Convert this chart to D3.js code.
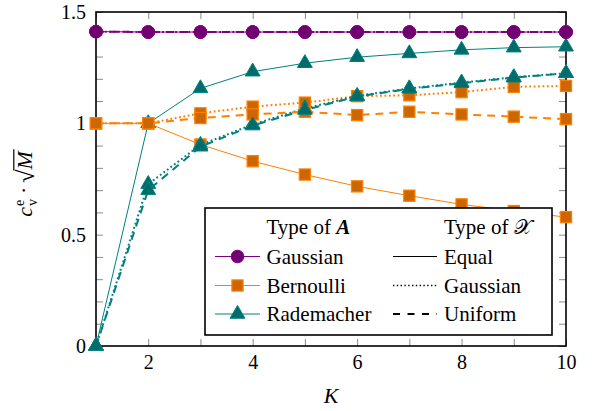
<!DOCTYPE html>
<html>
<head>
<meta charset="utf-8">
<script src="https://cdn.jsdelivr.net/npm/d3@7"></script>
<style>
  body { margin: 0; background: #fff; }
  svg text { font-family: "Liberation Serif", "Times New Roman", serif; }
</style>
</head>
<body>
<div id="plot"></div>
<script>
// values
const kValues = [1, 2, 3, 4, 5, 6, 7, 8, 9, 10];

const gaussEqual   = [1.412, 1.41, 1.41, 1.41, 1.41, 1.41, 1.41, 1.41, 1.41, 1.41];
const gaussGauss   = [1.412, 1.41, 1.41, 1.41, 1.41, 1.41, 1.41, 1.41, 1.41, 1.41];
const gaussUniform = [1.412, 1.41, 1.41, 1.41, 1.41, 1.41, 1.41, 1.41, 1.41, 1.41];

const bernEqual   = [1, 1, 0.905, 0.83, 0.77, 0.717, 0.675, 0.636, 0.606, 0.579];
const bernGauss   = [1, 1, 1.045, 1.075, 1.093, 1.122, 1.126, 1.14, 1.164, 1.168];
const bernUniform = [1, 1, 1.024, 1.04, 1.052, 1.037, 1.052, 1.04, 1.03, 1.019];

const radEqual   = [0, 1.0, 1.157, 1.232, 1.27, 1.297, 1.314, 1.33, 1.34, 1.344];
const radGauss   = [0, 0.727, 0.903, 0.995, 1.067, 1.123, 1.157, 1.183, 1.207, 1.225];
const radUniform = [0, 0.70, 0.895, 0.99, 1.06, 1.12, 1.155, 1.18, 1.205, 1.225];

const xTickValues = d3.range(1, 11);
const xTickLabels = [2, 4, 6, 8, 10];
const yTickValues = d3.range(0, 16).map(i => i / 10);
const yTickLabels = [0, 0.5, 1, 1.5];

const matrixTypes = ["Gaussian", "Bernoulli", "Rademacher"];
const signalTypes = ["Equal", "Gaussian", "Uniform"];

const colours = {
  Gaussian:   { line: "#800080", fill: "#700070" },
  Bernoulli:  { line: "#ff8000", fill: "#cc6600" },
  Rademacher: { line: "#008080", fill: "#006b6b" }
};
const dashes = { Equal: null, Gaussian: "1.8,2.6", Uniform: "8,6" };
const widths = { Equal: 1, Gaussian: 2, Uniform: 2 };

const seriesData = {
  Equal:    { Gaussian: gaussEqual,   Bernoulli: bernEqual,   Rademacher: radEqual },
  Gaussian: { Gaussian: gaussGauss,   Bernoulli: bernGauss,   Rademacher: radGauss },
  Uniform:  { Gaussian: gaussUniform, Bernoulli: bernUniform, Rademacher: radUniform }
};

const serif = "Liberation Serif, Times New Roman, serif";
const width = 592, height = 411;
const margin = { top: 12, right: 26, bottom: 65, left: 96 };
const plotW = width - margin.left - margin.right;
const plotH = height - margin.top - margin.bottom;

const svg = d3.select("#plot").append("svg")
  .attr("width", width)
  .attr("height", height)
  .attr("font-family", serif);

const g = svg.append("g").attr("transform", `translate(${margin.left},${margin.top})`);

const x = d3.scaleLinear().domain([1, 10]).range([0, plotW]);
const y = d3.scaleLinear().domain([0, 1.5]).range([plotH, 0]);

// axes with inward ticks
const tickCol = "#8a8a8a";
const fmtY = d => yTickLabels.some(v => Math.abs(v - d) < 1e-9) ? String(+d.toFixed(1)) : "";
const fmtX = d => xTickLabels.includes(d) ? String(d) : "";

function styleAxis(sel, size) {
  sel.attr("font-family", serif);
  sel.select(".domain").remove();
  sel.selectAll(".tick line").attr("stroke", tickCol).attr("stroke-width", 1);
  sel.selectAll(".tick text")
    .style("font-size", size + "px")
    .attr("fill", "#000");
}

g.append("g").attr("transform", `translate(0,${plotH})`)
  .call(d3.axisBottom(x).tickValues(xTickValues).tickFormat(fmtX).tickSizeInner(-7).tickSizeOuter(0).tickPadding(9))
  .call(s => styleAxis(s, 20));
g.append("g")
  .call(d3.axisTop(x).tickValues(xTickValues).tickFormat("").tickSizeInner(-7).tickSizeOuter(0))
  .call(s => styleAxis(s, 20));
g.append("g")
  .call(d3.axisLeft(y).tickValues(yTickValues).tickFormat(fmtY).tickSizeInner(-7).tickSizeOuter(0).tickPadding(10))
  .call(s => styleAxis(s, 20));
g.append("g").attr("transform", `translate(${plotW},0)`)
  .call(d3.axisRight(y).tickValues(yTickValues).tickFormat("").tickSizeInner(-7).tickSizeOuter(0))
  .call(s => styleAxis(s, 20));

// frame
g.append("rect")
  .attr("width", plotW).attr("height", plotH)
  .attr("fill", "none").attr("stroke", "#000").attr("stroke-width", 1.6);

// markers
function drawMarker(sel, type, px, py) {
  const c = colours[type];
  if (type === "Gaussian") {
    sel.append("circle").attr("cx", px).attr("cy", py).attr("r", 6.3)
      .attr("fill", c.fill).attr("stroke", c.line).attr("stroke-width", 1);
  } else if (type === "Bernoulli") {
    sel.append("rect").attr("x", px - 5.6).attr("y", py - 5.6).attr("width", 11.2).attr("height", 11.2)
      .attr("fill", c.fill).attr("stroke", c.line).attr("stroke-width", 1.2);
  } else {
    sel.append("path")
      .attr("d", d3.symbol(d3.symbolTriangle, 95)())
      .attr("transform", `translate(${px},${py})`)
      .attr("fill", c.fill).attr("stroke", c.line).attr("stroke-width", 1);
  }
}

const line = d3.line().x((d, i) => x(kValues[i])).y(d => y(d));

signalTypes.forEach(sig => {
  matrixTypes.forEach(mat => {
    const vals = seriesData[sig][mat];
    const sg = g.append("g");
    sg.append("path")
      .datum(vals)
      .attr("d", line)
      .attr("fill", "none")
      .attr("stroke", colours[mat].line)
      .attr("stroke-width", widths[sig])
      .attr("stroke-dasharray", dashes[sig]);
    vals.forEach((v, i) => drawMarker(sg, mat, x(kValues[i]), y(v)));
  });
});

// legend
const lg = svg.append("g");
lg.append("rect")
  .attr("x", 205).attr("y", 208).attr("width", 347).attr("height", 127)
  .attr("fill", "#fff").attr("stroke", "#000").attr("stroke-width", 1.6);

const lFont = 21;
const head1 = lg.append("text").attr("x", 266.5).attr("y", 234).style("font-size", lFont + "px");
head1.append("tspan").text("Type of ");
head1.append("tspan").text("A").style("font-weight", "bold").style("font-style", "italic");
const head2 = lg.append("text").attr("x", 444).attr("y", 234).style("font-size", lFont + "px");
head2.append("tspan").text("Type of ");
head2.append("tspan").text("𝒳");

const rowY = [256.5, 285.5, 314];
matrixTypes.forEach((mat, i) => {
  lg.append("line").attr("x1", 215).attr("x2", 260).attr("y1", rowY[i]).attr("y2", rowY[i])
    .attr("stroke", colours[mat].line).attr("stroke-width", 1);
  drawMarker(lg, mat, 237.5, rowY[i]);
  lg.append("text").attr("x", 266.5).attr("y", rowY[i] + 7).style("font-size", lFont + "px").text(mat);
});
signalTypes.forEach((sig, i) => {
  lg.append("line").attr("x1", 393).attr("x2", 437).attr("y1", rowY[i]).attr("y2", rowY[i])
    .attr("stroke", "#000").attr("stroke-width", sig === "Equal" ? 1 : (sig === "Gaussian" ? 1.4 : 2))
    .attr("stroke-dasharray", sig === "Equal" ? null : (sig === "Gaussian" ? "1.4,2.4" : "7,7.5"));
  lg.append("text").attr("x", 444).attr("y", rowY[i] + 7).style("font-size", lFont + "px").text(sig);
});

// x label
svg.append("text")
  .attr("x", margin.left + plotW / 2).attr("y", 403)
  .attr("text-anchor", "middle")
  .style("font-size", "22px").style("font-style", "italic")
  .text("K");

// y label: c_v^e · sqrt(M)
const yl = svg.append("g").attr("transform", "translate(32,183) rotate(-90)");
const parts = yl.append("g");
let cx = 0;
const cTxt = parts.append("text").attr("x", cx).attr("y", 0).style("font-size", "22px").style("font-style", "italic").text("c");
cx += cTxt.node().getComputedTextLength() + 1;
parts.append("text").attr("x", cx).attr("y", -8).style("font-size", "14px").text("e");
const vTxt = parts.append("text").attr("x", cx).attr("y", 5).style("font-size", "14px").text("v");
cx += vTxt.node().getComputedTextLength() + 5;
const dot = parts.append("text").attr("x", cx).attr("y", -1).style("font-size", "22px").text("·");
cx += dot.node().getComputedTextLength() + 4;
const rad = parts.append("text").attr("x", cx).attr("y", 2).style("font-size", "24px").text("√");
const radW = rad.node().getComputedTextLength();
const radBox = rad.node().getBBox();
cx += radW;
const mTxt = parts.append("text").attr("x", cx).attr("y", 0).style("font-size", "22px").style("font-style", "italic").text("M");
const mW = mTxt.node().getComputedTextLength();
parts.append("line")
  .attr("x1", cx - 1).attr("x2", cx + mW + 2)
  .attr("y1", radBox.y + 0.8).attr("y2", radBox.y + 0.8)
  .attr("stroke", "#000").attr("stroke-width", 1.2);
const totalW = cx + mW + 2;
parts.attr("transform", `translate(${-totalW / 2},0)`);
</script>
</body>
</html>
